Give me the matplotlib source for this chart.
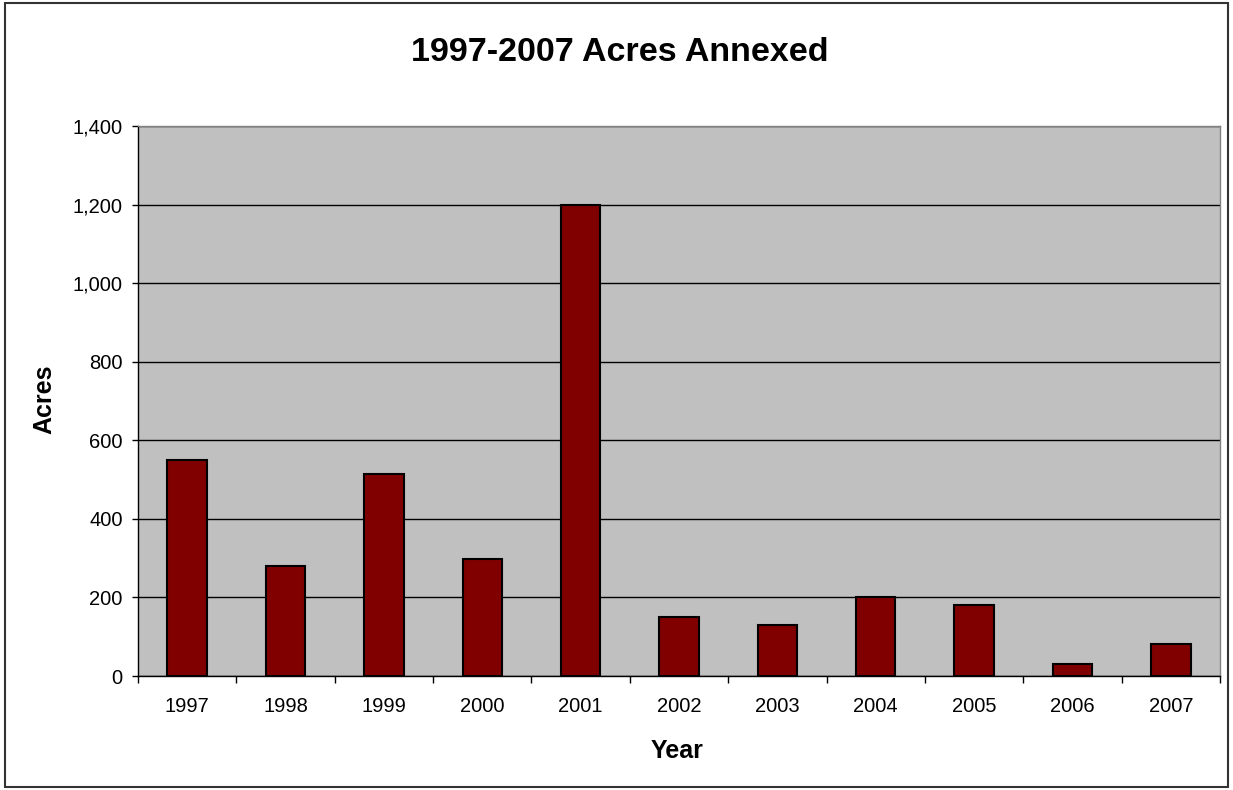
import matplotlib
matplotlib.use("Agg")
import matplotlib.pyplot as plt
from matplotlib.patches import Rectangle
from matplotlib.ticker import FuncFormatter, FixedLocator
import numpy as np

years = ["1997", "1998", "1999", "2000", "2001", "2002", "2003", "2004", "2005", "2006", "2007"]
acres = [550, 280, 515, 298, 1200, 150, 130, 200, 180, 30, 82]
y_ticks = [0, 200, 400, 600, 800, 1000, 1200, 1400]

plt.rcParams['font.family'] = ['Liberation Sans', 'DejaVu Sans']

fig = plt.figure(figsize=(12.33, 7.90), dpi=100)
fig.patch.set_facecolor("white")
fig.patches.append(Rectangle((0.004, 0.004), 0.992, 0.992, transform=fig.transFigure,
                             fill=False, edgecolor="#333333", linewidth=1.5))

ax = fig.add_axes([0.1119, 0.1443, 0.8776, 0.6956])
ax.set_facecolor("#C0C0C0")
x = np.arange(len(years))
ax.bar(x, acres, width=0.4, color="#800000", edgecolor="black", linewidth=1.5, zorder=3)

ax.set_xlim(-0.5, len(years) - 0.5)
ax.set_ylim(0, 1400)
ax.set_yticks(y_ticks)
ax.yaxis.set_major_formatter(FuncFormatter(lambda v, p: f"{int(v):,}"))
ax.grid(axis="y", color="black", linewidth=1)
ax.set_axisbelow(True)

ax.set_xticks(x)
ax.set_xticklabels(years)
ax.xaxis.set_minor_locator(FixedLocator(np.arange(-0.5, len(years), 1.0)))
ax.tick_params(axis="x", which="major", length=0, pad=15, labelsize=14.5)
ax.tick_params(axis="x", which="minor", length=5, width=1, color="black", direction="out")
ax.tick_params(axis="y", length=4, width=1, color="black", direction="out", pad=7, labelsize=14.5)

for s in ["top", "right"]:
    ax.spines[s].set_color("#808080")
    ax.spines[s].set_linewidth(1)
for s in ["left", "bottom"]:
    ax.spines[s].set_color("black")
    ax.spines[s].set_linewidth(1)

fig.text(0.5025, 0.934, "1997-2007 Acres Annexed", ha="center", va="center",
         fontsize=24.5, fontweight="bold")
fig.text(0.0357, 0.494, "Acres", ha="center", va="center", rotation=90,
         fontsize=18, fontweight="bold")
fig.text(0.549, 0.050, "Year", ha="center", va="center",
         fontsize=18, fontweight="bold")

fig.savefig("out.png", dpi=100, facecolor="white")
